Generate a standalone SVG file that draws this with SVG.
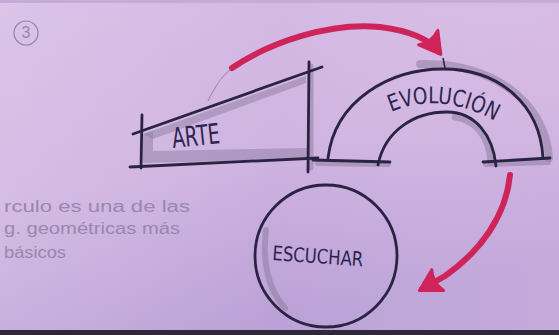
<svg xmlns="http://www.w3.org/2000/svg" width="559" height="335" viewBox="0 0 559 335">
<defs>
<linearGradient id="bg" x1="0" y1="0" x2="0.35" y2="1">
<stop offset="0" stop-color="#d6bce5"/>
<stop offset="0.55" stop-color="#cfb3e1"/>
<stop offset="1" stop-color="#bba1d7"/>
</linearGradient>
<linearGradient id="bg2" x1="0" y1="0" x2="1" y2="0">
<stop offset="0" stop-color="#ffffff" stop-opacity="0.12"/>
<stop offset="0.5" stop-color="#ffffff" stop-opacity="0"/>
<stop offset="1" stop-color="#f0d0f0" stop-opacity="0.18"/>
</linearGradient>
<marker id="redhead" markerUnits="userSpaceOnUse" markerWidth="30" markerHeight="30" refX="14" refY="10" orient="auto" viewBox="0 0 20 20">
<path d="M2,2 Q9,6 16,10 Q9,14 2,18 Q6,10 2,2 Z" fill="#cf2459" stroke="#cf2459" stroke-width="2" stroke-linejoin="round"/>
</marker>
<style>
.ink{fill:none;stroke:#2a2342;stroke-width:2.8;stroke-linecap:round;stroke-linejoin:round}
.shade{fill:none;stroke:#8e7ea3;stroke-opacity:0.55;stroke-linecap:round}
.shadefill{fill:#8e7ea3;fill-opacity:0.5}
.lbl{font-family:"DejaVu Sans Condensed","DejaVu Sans",sans-serif;fill:#2c2550}
.pencil{font-family:"Liberation Sans",sans-serif;fill:#9888ad;font-size:16px}
.red{fill:none;stroke:#cf2459;stroke-width:6;stroke-linecap:round}
</style>
</defs>
<rect width="559" height="335" fill="url(#bg)"/>
<rect width="559" height="335" fill="url(#bg2)"/>
<rect x="0" y="0" width="559" height="3" fill="#c4abd8"/>
<rect x="0" y="330" width="559" height="5" fill="#2f2838"/>

<g id="mark">
<circle cx="26" cy="33" r="12" fill="none" stroke="#9584a8" stroke-width="1.2"/>
<text x="26" y="38" class="pencil" font-size="13" text-anchor="middle">3</text>
</g>

<g id="note">
<text x="4" y="212" class="pencil" textLength="186" lengthAdjust="spacingAndGlyphs">rculo es una de las</text>
<text x="4" y="234" class="pencil" textLength="176" lengthAdjust="spacingAndGlyphs">g. geométricas más</text>
<text x="4" y="258" class="pencil" textLength="62" lengthAdjust="spacingAndGlyphs">básicos</text>
</g>

<g id="arte">
<path class="shadefill" d="M143,134 L153,131 L153,151 L307,148 L308,159 L143,163 Z"/>
<path class="shadefill" d="M143,134 L306,76 L306,83 L153,139 Z"/>
<path class="shade" stroke-width="5" d="M311,66 L311,168"/>
<path class="ink" d="M142,115 L141,168"/>
<path class="ink" d="M133,134 L322,67"/>
<path class="ink" d="M309,62 L308,172"/>
<path class="ink" d="M130,167 L318,158"/>
<text class="lbl" x="0" y="0" font-size="28" textLength="48" lengthAdjust="spacingAndGlyphs" transform="translate(173,148) rotate(-6)">ARTE</text>
</g>

<g id="evolucion">
<path class="shade" stroke-width="8" d="M420,64 C490,62 545,100 549,158"/>
<path class="shade" stroke-width="7" d="M455,117 C478,120 490,140 491,162"/>
<path class="shade" stroke-width="6" d="M318,163 L388,164"/>
<path class="shade" stroke-width="6" d="M486,164 L548,162"/>
<path class="ink" d="M328,158 C335,100 390,69 443,69 C500,69 540,105 543,158"/>
<path class="ink" d="M378,165 C385,130 415,112 447,112 C475,112 493,135 496,166"/>
<path class="ink" d="M313,160 L390,162"/>
<path class="ink" d="M483,162 L550,158"/>
<path id="evoPath" d="M391,112 Q443,90 500,124" fill="none"/>
<text class="lbl" font-size="23"><textPath href="#evoPath" textLength="108" lengthAdjust="spacingAndGlyphs">EVOLUCIÓN</textPath></text>
</g>

<g id="escuchar">
<path class="shade" stroke-width="6" d="M266,230 C262,260 268,290 285,308"/>
<ellipse class="ink" cx="326" cy="256" rx="71" ry="71"/>
<text class="lbl" x="0" y="0" font-size="20" textLength="91" lengthAdjust="spacingAndGlyphs" transform="translate(272,260) rotate(4)">ESCUCHAR</text>
</g>

<g id="connectors">
<path d="M208,101 C214,88 222,76 231,69" fill="none" stroke="#8d7ca2" stroke-width="0.9"/>
<path class="red" d="M232,68 C270,42 330,22 380,27 C412,31 430,40 439,52" marker-end="url(#redhead)"/>
<path d="M443,58 L445,68" stroke="#2a2342" stroke-width="1.5" fill="none"/>
<path class="red" d="M510,175 C506,215 482,250 445,276 L422,289" marker-end="url(#redhead)"/>
</g>
</svg>
